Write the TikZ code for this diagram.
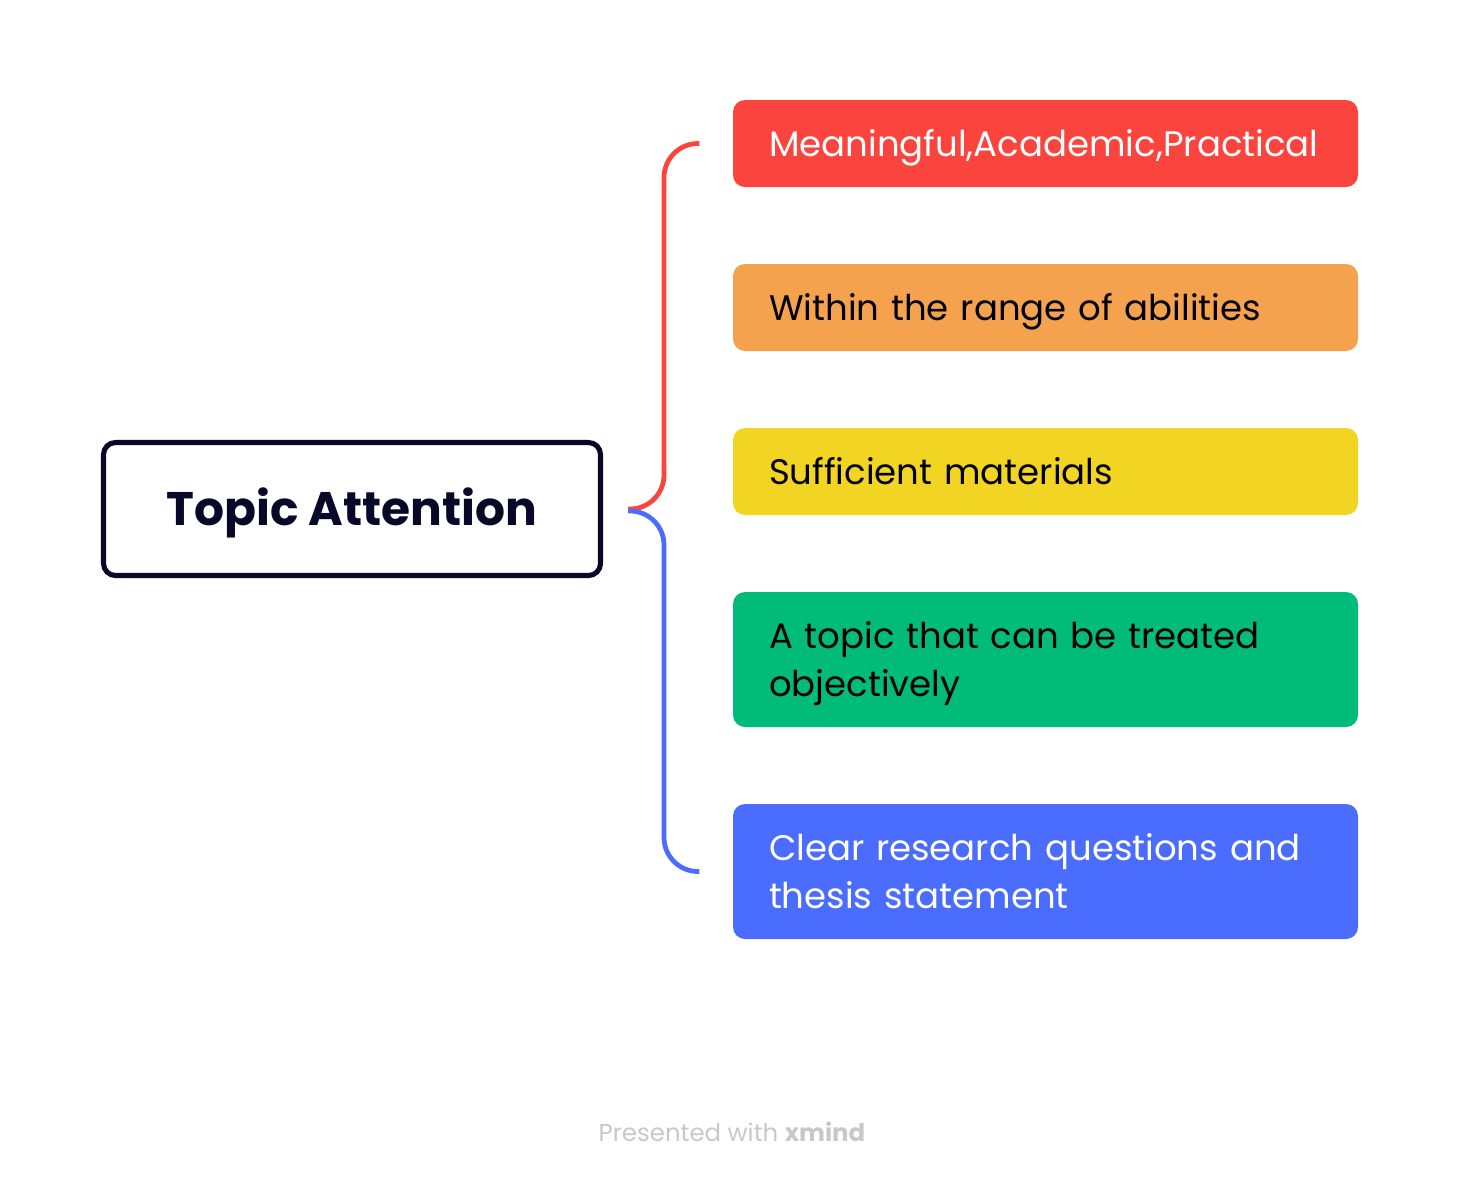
\documentclass[tikz,border=0pt]{standalone}
\usepackage{fontspec}
\setmainfont{Poppins}
\definecolor{newred}{HTML}{FA443D}
\definecolor{neworange}{HTML}{F5A24F}
\definecolor{newyellow}{HTML}{F2D422}
\definecolor{newgreen}{HTML}{00BB7A}
\definecolor{newblue}{HTML}{4A6CFF}
\definecolor{navy}{HTML}{080828}
\definecolor{footgray}{HTML}{C8C8C8}
\usetikzlibrary{positioning, calc}

\begin{document}
\begin{tikzpicture}[
	topicbox/.style = {draw = navy, line width = 1.45pt, rounded corners = 0.12cm, fill = white, minimum width = 4.97cm, minimum height = 1.33cm, text height = 0.33cm, text depth = 0cm, font = \fontsize{13.4}{16}\selectfont\bfseries, text = navy},
	subbox/.style = {rounded corners = 0.12cm, minimum height = 0.87cm, text width = 5.53cm, inner xsep = 0.36cm, inner ysep = 0pt, align = left, text height = 0.255cm, text depth = 0cm, font = \fontsize{10.1}{13.66}\selectfont},
	twoline/.style = {minimum height = 1.35cm, text depth = 0.48cm},
	branch/.style = {line width = 1.35pt, rounded corners = 0.34cm}
]
\useasboundingbox (0,0) rectangle (14.6,-11.8);

\node[topicbox] (topic) at (3.52,-5.09) {Topic Attention};

% subtopics
\node[subbox, fill = newred, text = white] (mean) at (10.455,-1.435) {Meaningful,Academic,Practical};
\node[subbox, fill = neworange, text = black] (range) at (10.455,-3.075) {Within the range of abilities};
\node[subbox, fill = newyellow, text = black] (mat) at (10.455,-4.715) {Sufficient materials};
\node[subbox, twoline, fill = newgreen, text = black] (obj) at (10.455,-6.595) {A topic that can be treated\\objectively};
\node[subbox, twoline, fill = newblue, text = white] (clear) at (10.455,-8.715) {Clear research questions and\\thesis statement};

% brace
\coordinate (join) at ([xshift = 0.25cm]topic.east);
\coordinate (bx) at (6.64,0);
\coordinate (redend) at ([xshift = -0.33cm]mean.west);
\coordinate (blueend) at ([xshift = -0.33cm]clear.west);
\draw[branch, newred] (join) -- (join -| bx) |- (redend);
\draw[branch, newblue] ([yshift = -0.02cm]join) -- ([yshift = -0.02cm]join -| bx) |- (blueend);

\node[font = \fontsize{6.95}{9}\selectfont, text = footgray] (foot) at (7.32,-11.32) {Presented with \textbf{xmind}};
\end{tikzpicture}
\end{document}
